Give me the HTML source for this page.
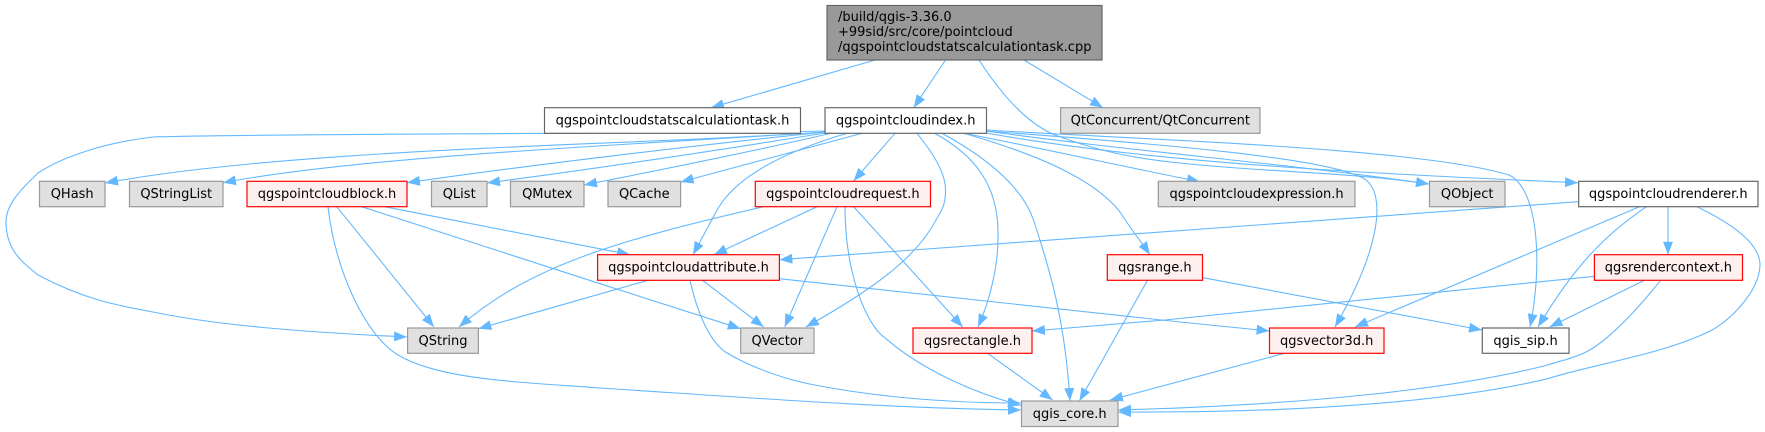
<!DOCTYPE html>
<html><head><meta charset="utf-8"><style>
html,body{margin:0;padding:0;background:#fff}
svg{display:block}
text{font-family:"DejaVu Sans","Liberation Sans",sans-serif;font-size:13px;fill:#000}
.e path{fill:none;stroke:#63b8ff;stroke-width:1.1;marker-end:url(#a)}
.n rect{stroke-width:1.2}
.g rect{fill:#e0e0e0;stroke:#999}
.w rect{fill:#fff;stroke:#666}
.r rect{fill:#fff0f0;stroke:#f00}
.n text{text-anchor:middle}
</style></head><body>
<svg width="1765" height="432" viewBox="0 0 1765 432" xmlns="http://www.w3.org/2000/svg">
<defs><marker id="a" markerUnits="userSpaceOnUse" markerWidth="14" markerHeight="10" refX="13" refY="5" orient="auto"><path d="M0 0L13 5L0 10Z" fill="#63b8ff"/></marker></defs>
<g class="e">
<path d="M875 60L711 107.7"/>
<path d="M945.5 60L913.7 107.7"/>
<path d="M1024 60L1103 107.7" />
<path d="M979 60C1005 100 1030 125 1055 135C1095 150 1130 158 1180 163C1260 172 1350 172 1429 184"/>
<path d="M986 131C1120 150 1300 165 1429 184"/>
<path d="M986 133C1150 162 1350 173 1578 182.7"/>
<path d="M962.7 133C1050 150 1130 168 1200 181.7"/>
<path d="M986 131C1100 140 1330 155 1366 180C1385 195 1382 245 1335 327"/>
<path d="M986 130C1150 140 1420 148 1509 175C1540 190 1542 270 1530 327"/>
<path d="M825 131C700 134 300 133 153 137C110 142 65 155 38 173C20 190 6 205 6 222C6 250 22 262 38 275C85 300 120 306 153 312C215 325 300 332 407 337"/>
<path d="M825 132C650 145 300 147 105 183"/>
<path d="M825 132C650 144 370 155 223 182.7"/>
<path d="M825 132C700 145 530 165 407 182.7"/>
<path d="M825 133C720 150 600 168 487 183"/>
<path d="M832 133C760 150 660 170 584 185"/>
<path d="M863 133L680.6 182"/>
<path d="M895 133.3L853.6 181"/>
<path d="M848 133C790 150 735 175 716 212L693 254.7"/>
<path d="M916.8 133.3C935 155 945.5 175 945.5 190C945.5 205 942 210 936 220C920 250 890 280 805.8 327"/>
<path d="M934 133C975 155 997 185 998 230C999 265 990 300 978 327"/>
<path d="M941.6 133C1000 165 1025 195 1033.5 220C1050 270 1065 320 1070 401"/>
<path d="M962.7 133C1040 155 1095 180 1120 212C1130 228 1140 240 1150 254.7"/>
<path d="M336.8 206.7L434 327"/>
<path d="M328 206.7C335 270 365 335 398 355C440 380 520 382 600 388C740 397 880 408 1021 410"/>
<path d="M361.6 206.7L600 283.7L740.7 328.7"/>
<path d="M384.6 206.7L630 254.7"/>
<path d="M763.7 206.7C620 240 530 265 459 327"/>
<path d="M817 206.7L714 254.7"/>
<path d="M837 206.7L784.7 327"/>
<path d="M845 206.7C845 270 865 325 886 338.7C920 368 970 392 1021 405.3"/>
<path d="M853.6 206.7L962.7 327"/>
<path d="M648 280.3L478.4 328.7"/>
<path d="M702.5 280.3L763.7 327"/>
<path d="M690 280.3C700 325 715 345 725.4 352C755 370 790 380 809.6 384C880 398 950 403 1021 403"/>
<path d="M779.4 278.7L1180 322L1269.5 331"/>
<path d="M987.6 353.3L1052.6 400"/>
<path d="M1147.5 280.3L1079.4 401"/>
<path d="M1203 277.7L1482 330"/>
<path d="M1284.4 353.3L1110 400"/>
<path d="M1578.3 201.7L779.4 259.7"/>
<path d="M1639.5 206.7L1355 327"/>
<path d="M1646.4 206.7C1605 235 1575 265 1538 327"/>
<path d="M1668 206.7V254.7"/>
<path d="M1697 206.7C1735 225 1760 245 1760 265C1760 290 1730 322 1708 332C1660 355 1590 365 1547.7 378.7C1450 402 1300 413 1118 412"/>
<path d="M1594.4 276.3L1165 320L1032 331"/>
<path d="M1644.5 280.3L1549.6 327"/>
<path d="M1660.6 280.3C1625 325 1600 345 1586 352C1570 360 1555 362 1547.7 365C1450 390 1300 405 1118 410"/>
</g>
<g class="n w"><rect x="827" y="5.5" width="275" height="54.5" style="fill:#999;stroke:#666"/>
<text x="838" y="21" style="text-anchor:start">/build/qgis-3.36.0</text>
<text x="838" y="36" style="text-anchor:start">+99sid/src/core/pointcloud</text>
<text x="838" y="51" style="text-anchor:start">/qgspointcloudstatscalculationtask.cpp</text></g>
<g class="n w"><rect x="544.5" y="107.7" width="256" height="25.6"/><text x="672.5" y="124.5">qgspointcloudstatscalculationtask.h</text></g>
<g class="n w"><rect x="825" y="107.7" width="161.5" height="25.6"/><text x="905.7" y="124.5">qgspointcloudindex.h</text></g>
<g class="n g"><rect x="1060.6" y="107.7" width="199.4" height="25.6"/><text x="1160.3" y="124.5">QtConcurrent/QtConcurrent</text></g>
<g class="n g"><rect x="39.5" y="181.3" width="65.5" height="25.4"/><text x="72.2" y="198">QHash</text></g>
<g class="n g"><rect x="129.5" y="181.3" width="93.5" height="25.4"/><text x="176.2" y="198">QStringList</text></g>
<g class="n r"><rect x="247" y="181.3" width="160" height="25.4"/><text x="327" y="198">qgspointcloudblock.h</text></g>
<g class="n g"><rect x="431.5" y="181.3" width="55.5" height="25.4"/><text x="459.2" y="198">QList</text></g>
<g class="n g"><rect x="510.5" y="181.3" width="73.5" height="25.4"/><text x="547.2" y="198">QMutex</text></g>
<g class="n g"><rect x="608" y="181.3" width="72.6" height="25.4"/><text x="644.3" y="198">QCache</text></g>
<g class="n r"><rect x="755.3" y="181.3" width="175.2" height="25.4"/><text x="842.9" y="198">qgspointcloudrequest.h</text></g>
<g class="n g"><rect x="1158.3" y="181.3" width="196.7" height="25.4"/><text x="1256.6" y="198">qgspointcloudexpression.h</text></g>
<g class="n g"><rect x="1429.5" y="181.3" width="75.5" height="25.4"/><text x="1467.2" y="198">QObject</text></g>
<g class="n w"><rect x="1578.7" y="181.3" width="179.3" height="25.4"/><text x="1668.3" y="198">qgspointcloudrenderer.h</text></g>
<g class="n r"><rect x="597.6" y="254.7" width="181.8" height="25.6"/><text x="688.5" y="271.5">qgspointcloudattribute.h</text></g>
<g class="n r"><rect x="1107.3" y="254.7" width="95.2" height="25.6"/><text x="1154.9" y="271.5">qgsrange.h</text></g>
<g class="n r"><rect x="1594.4" y="254.7" width="148.1" height="25.6"/><text x="1668.4" y="271.5">qgsrendercontext.h</text></g>
<g class="n g"><rect x="407.6" y="328" width="70.8" height="25.3"/><text x="443" y="345">QString</text></g>
<g class="n g"><rect x="740.7" y="328" width="73.3" height="25.3"/><text x="777.3" y="345">QVector</text></g>
<g class="n r"><rect x="913" y="328" width="119" height="25.3"/><text x="972.5" y="345">qgsrectangle.h</text></g>
<g class="n r"><rect x="1269.5" y="328" width="114.5" height="25.3"/><text x="1326.7" y="345">qgsvector3d.h</text></g>
<g class="n w"><rect x="1482.3" y="328" width="86.7" height="25.3"/><text x="1525.6" y="345">qgis_sip.h</text></g>
<g class="n g"><rect x="1021.5" y="401" width="96.5" height="25.5"/><text x="1069.7" y="418">qgis_core.h</text></g>
</svg>
</body></html>
